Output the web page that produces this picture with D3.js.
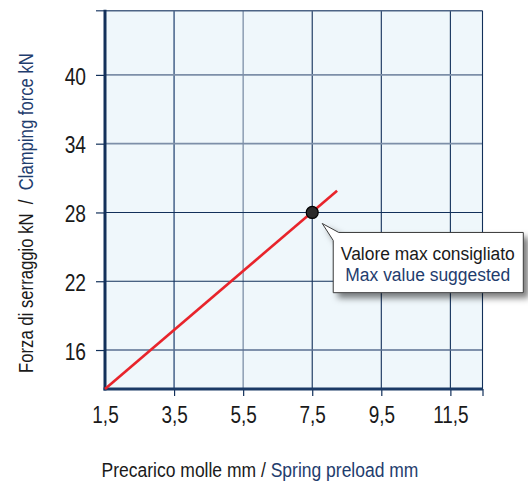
<!DOCTYPE html>
<html><head><meta charset="utf-8">
<script src="https://cdn.jsdelivr.net/npm/d3@7"></script>
<style>
html,body{margin:0;padding:0;background:#fff;}
svg{display:block;font-family:"Liberation Sans",Arial,sans-serif;}
</style></head>
<body>
<script>
// ---- data ----
const xDomain = [1.5, 12.43];
const yDomain = [12.6, 45.6];
const xTicks = [1.5, 3.5, 5.5, 7.5, 9.5, 11.5];
const xTickLabels = ["1,5", "3,5", "5,5", "7,5", "9,5", "11,5"];
const yTicks = [16, 22, 28, 34, 40];
const yTickLabels = ["16", "22", "28", "34", "40"];
const lineX = [1.5, 8.22];
const lineY = [12.6, 29.9];
const maxPoint = [7.5, 28];
const yTitleIt = "Forza di serraggio kN\u00a0\u00a0/\u00a0\u00a0";
const yTitleEn = "Clamping force kN";
const xTitleIt = "Precarico molle mm /\u00a0";
const xTitleEn = "Spring preload mm";
const noteIt = "Valore max consigliato";
const noteEn = "Max value suggested";

// ---- chart ----
const W = 528, H = 483;
const L = 105, R = 482.5, T = 10.7, B = 389;
const NAVY = "#12305a", GRAY = "#7d8fa8", EN = "#1f3d6e";

const svg = d3.select("body").append("svg").attr("width", W).attr("height", H);
const defs = svg.append("defs");
const f = defs.append("filter").attr("id", "sh").attr("x", "-20%").attr("y", "-20%").attr("width", "150%").attr("height", "160%");
f.append("feDropShadow").attr("dx", 5).attr("dy", 5).attr("stdDeviation", 3).attr("flood-color", "#000").attr("flood-opacity", 0.5);

const x = d3.scaleLinear().domain(xDomain).range([L, R]);
const y = d3.scaleLinear().domain(yDomain).range([B, T]);

svg.append("rect").attr("x", L).attr("y", T).attr("width", R - L).attr("height", B - T).attr("fill", "#eff7fb");

// grid
const vStyle = {3.5: ["#2a4a78", 1.3], 5.5: [GRAY, 1.3], 7.5: [NAVY, 1.1], 9.5: [NAVY, 1.1], 11.5: [NAVY, 1.1]};
svg.append("g").selectAll("line").data(xTicks.slice(1)).join("line")
  .attr("x1", d => x(d)).attr("x2", d => x(d)).attr("y1", T).attr("y2", B)
  .attr("stroke", d => vStyle[d][0]).attr("stroke-width", d => vStyle[d][1]);
const hStyle = {16: ["#5a6f90", 1.4], 22: [NAVY, 1.1], 28: [NAVY, 1.1], 34: [GRAY, 1.7], 40: [GRAY, 1.7]};
svg.append("g").selectAll("line").data(yTicks).join("line")
  .attr("x1", L).attr("x2", R).attr("y1", d => y(d)).attr("y2", d => y(d))
  .attr("stroke", d => hStyle[d][0]).attr("stroke-width", d => hStyle[d][1]);

// borders
svg.append("line").attr("x1", 96).attr("x2", R).attr("y1", T).attr("y2", T).attr("stroke", "#4d6485").attr("stroke-width", 1.6);
svg.append("line").attr("x1", R).attr("x2", R).attr("y1", T).attr("y2", B).attr("stroke", NAVY).attr("stroke-width", 1.1);

// axes
const yAxis = svg.append("g").attr("transform", `translate(${L},0)`)
  .call(d3.axisLeft(y).tickValues(yTicks).tickFormat((d, i) => yTickLabels[i]).tickSize(9).tickSizeOuter(0));
yAxis.select(".domain").remove();
yAxis.selectAll(".tick line").attr("stroke", NAVY).attr("stroke-width", 1.2);
yAxis.selectAll(".tick text").attr("x", null).attr("dy", "0.38em")
  .attr("transform", "translate(-19,0) scale(0.8,1)")
  .attr("font-size", 24).attr("fill", "#1a1a1a").attr("font-family", "Liberation Sans, Arial, sans-serif");

const xAxis = svg.append("g").attr("transform", `translate(0,${B})`)
  .call(d3.axisBottom(x).tickValues(xTicks.slice(1).concat([xDomain[1]])).tickFormat("").tickSize(7).tickSizeOuter(0));
xAxis.select(".domain").remove();
xAxis.selectAll(".tick line").attr("stroke", NAVY).attr("stroke-width", 1.2);

const xLab = svg.append("g").attr("transform", `translate(0,${B})`)
  .call(d3.axisBottom(x).tickValues(xTicks).tickFormat((d, i) => xTickLabels[i]).tickSize(0));
xLab.select(".domain").remove();
xLab.selectAll(".tick text").attr("y", 0).attr("dy", null)
  .attr("transform", "translate(0,33.5) scale(0.79,1)")
  .attr("font-size", 24).attr("fill", "#1a1a1a").attr("font-family", "Liberation Sans, Arial, sans-serif");

svg.append("line").attr("x1", L).attr("x2", L).attr("y1", T - 1).attr("y2", B + 1.5).attr("stroke", NAVY).attr("stroke-width", 3);
svg.append("line").attr("x1", L - 1.5).attr("x2", R + 0.5).attr("y1", B).attr("y2", B).attr("stroke", "#1b3a66").attr("stroke-width", 3);

// red line
svg.append("path").datum(lineX.map((v, i) => [v, lineY[i]]))
  .attr("d", d3.line().x(d => x(d[0])).y(d => y(d[1])))
  .attr("fill", "none").attr("stroke", "#e8242b").attr("stroke-width", 2.6);

// helper: fit text to a width by horizontal scaling
function fitText(sel, tx, ty, width, rot) {
  const len = sel.node().getComputedTextLength();
  const s = width / len;
  sel.attr("transform", `translate(${tx},${ty})` + (rot ? ` rotate(${rot})` : "") + ` scale(${s},1)`);
}

// callout
const px = x(maxPoint[0]), py = y(maxPoint[1]);
const bx0 = px + 21, by0 = py + 20, bx1 = 523.3, by1 = 292.7;
const tip = [px + 10, py + 11];
svg.append("path")
  .attr("d", `M${tip[0]},${tip[1]} L${bx0 + 5.5},${by0} L${bx1},${by0} L${bx1},${by1} L${bx0},${by1} L${bx0},${by0 + 8} Z`)
  .attr("fill", "#fff").attr("stroke", "#3a3a3a").attr("stroke-width", 1).attr("filter", "url(#sh)");
const cx = (bx0 + bx1) / 2 - 0.5;
const n1 = svg.append("text").attr("text-anchor", "middle").attr("font-size", 19).attr("fill", "#1a1a1a").text(noteIt);
fitText(n1, cx, 260, 174);
const n2 = svg.append("text").attr("text-anchor", "middle").attr("font-size", 19).attr("fill", EN).text(noteEn);
fitText(n2, cx, 280.5, 165);

// point
svg.append("circle").attr("cx", px).attr("cy", py).attr("r", 6).attr("fill", "#2a2a2a").attr("stroke", "#000").attr("stroke-width", 1.2);

// titles
const yt = svg.append("text").attr("text-anchor", "middle").attr("font-size", 20);
yt.append("tspan").attr("fill", "#1a1a1a").text(yTitleIt);
yt.append("tspan").attr("fill", EN).text(yTitleEn);
fitText(yt, 33, 213, 320, -90);

const xt = svg.append("text").attr("text-anchor", "middle").attr("font-size", 20);
xt.append("tspan").attr("fill", "#1a1a1a").text(xTitleIt);
xt.append("tspan").attr("fill", EN).text(xTitleEn);
fitText(xt, 260, 476.5, 317);
</script>
</body></html>
